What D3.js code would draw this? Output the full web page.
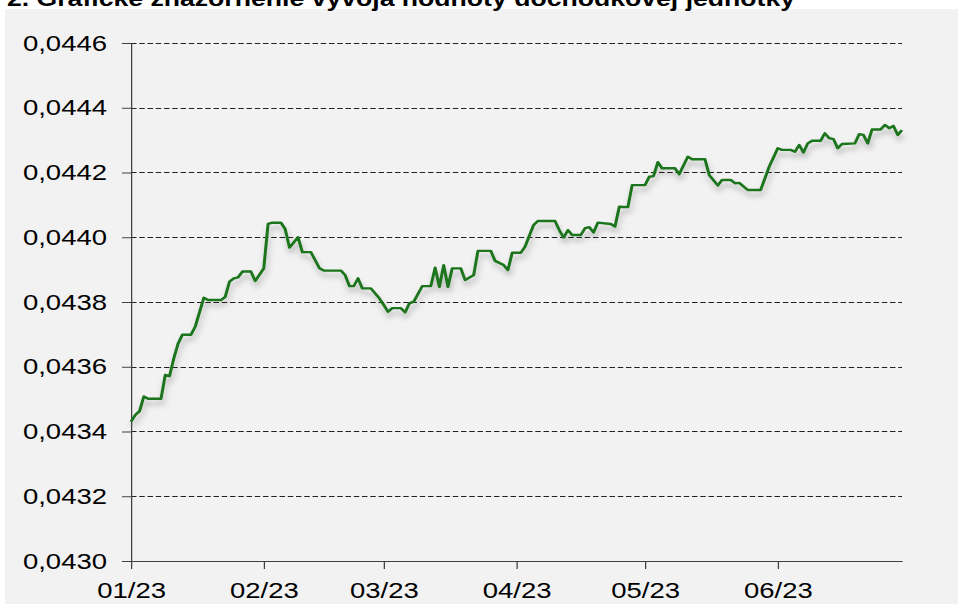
<!DOCTYPE html>
<html>
<head>
<meta charset="utf-8">
<script src="https://cdn.jsdelivr.net/npm/d3@7"></script>
<style>
    body { margin: 0; background: #fff; }
    svg { display: block; }
    text { font-family: "Liberation Sans", Arial, sans-serif; fill: #000; }
</style>
</head>
<body>
<svg id="chart"></svg>
<script>
var title = "2. Grafické znázornenie vývoja hodnoty dôchodkovej jednotky";

var dates = [
    "2023-01-01", "2023-01-02", "2023-01-03", "2023-01-04", "2023-01-05", "2023-01-08", "2023-01-09", "2023-01-10",
    "2023-01-11", "2023-01-12", "2023-01-13", "2023-01-15", "2023-01-16", "2023-01-18", "2023-01-19", "2023-01-22",
    "2023-01-23", "2023-01-24", "2023-01-25", "2023-01-26", "2023-01-27", "2023-01-29", "2023-01-30", "2023-02-01",
    "2023-02-02", "2023-02-03", "2023-02-05", "2023-02-06", "2023-02-07", "2023-02-09", "2023-02-10", "2023-02-12",
    "2023-02-14", "2023-02-15", "2023-02-19", "2023-02-20", "2023-02-21", "2023-02-22", "2023-02-23", "2023-02-24",
    "2023-02-26", "2023-02-28", "2023-03-01", "2023-03-02", "2023-03-03", "2023-03-05", "2023-03-06", "2023-03-07",
    "2023-03-08", "2023-03-10", "2023-03-12", "2023-03-13", "2023-03-14", "2023-03-15", "2023-03-16", "2023-03-17",
    "2023-03-19", "2023-03-20", "2023-03-22", "2023-03-23", "2023-03-26", "2023-03-27", "2023-03-29", "2023-03-30",
    "2023-03-31", "2023-04-02", "2023-04-03", "2023-04-05", "2023-04-06", "2023-04-10", "2023-04-11", "2023-04-12",
    "2023-04-13", "2023-04-14", "2023-04-16", "2023-04-17", "2023-04-18", "2023-04-19", "2023-04-20", "2023-04-23",
    "2023-04-24", "2023-04-25", "2023-04-27", "2023-04-28", "2023-05-01", "2023-05-02", "2023-05-03", "2023-05-04",
    "2023-05-05", "2023-05-08", "2023-05-09", "2023-05-11", "2023-05-12", "2023-05-15", "2023-05-16", "2023-05-18",
    "2023-05-19", "2023-05-21", "2023-05-22", "2023-05-23", "2023-05-25", "2023-05-28", "2023-05-30", "2023-06-01",
    "2023-06-02", "2023-06-04", "2023-06-05", "2023-06-06", "2023-06-07", "2023-06-08", "2023-06-09", "2023-06-11",
    "2023-06-12", "2023-06-13", "2023-06-14", "2023-06-15", "2023-06-16", "2023-06-19", "2023-06-20", "2023-06-21",
    "2023-06-22", "2023-06-23", "2023-06-25", "2023-06-26", "2023-06-27", "2023-06-28", "2023-06-29", "2023-06-30"
];

var values = [
    0.043430, 0.043451, 0.043463, 0.043508, 0.043501, 0.043501, 0.043575, 0.043571,
    0.043626, 0.043672, 0.043699, 0.043699, 0.043724, 0.043813, 0.043806, 0.043806,
    0.043816, 0.043863, 0.043873, 0.043876, 0.043894, 0.043894, 0.043865, 0.043904,
    0.044041, 0.044045, 0.044045, 0.044025, 0.043968, 0.044000, 0.043954, 0.043954,
    0.043904, 0.043897, 0.043897, 0.043883, 0.043849, 0.043849, 0.043873, 0.043842,
    0.043842, 0.043811, 0.043791, 0.043770, 0.043781, 0.043781, 0.043768, 0.043796,
    0.043801, 0.043849, 0.043849, 0.043906, 0.043847, 0.043914, 0.043847, 0.043904,
    0.043904, 0.043868, 0.043883, 0.043958, 0.043958, 0.043927, 0.043914, 0.043899,
    0.043952, 0.043952, 0.043971, 0.044038, 0.044050, 0.044050, 0.044022, 0.043999,
    0.044022, 0.044007, 0.044007, 0.044028, 0.044031, 0.044015, 0.044045, 0.044041,
    0.044033, 0.044094, 0.044093, 0.044161, 0.044161, 0.044187, 0.044189, 0.044232,
    0.044213, 0.044213, 0.044195, 0.044249, 0.044241, 0.044241, 0.044192, 0.044160,
    0.044177, 0.044177, 0.044167, 0.044168, 0.044146, 0.044146, 0.044218, 0.044275,
    0.044270, 0.044270, 0.044264, 0.044285, 0.044262, 0.044290, 0.044298, 0.044298,
    0.044321, 0.044306, 0.044303, 0.044275, 0.044288, 0.044290, 0.044318, 0.044316,
    0.044290, 0.044333, 0.044333, 0.044347, 0.044337, 0.044344, 0.044316, 0.044331
];

var yTicks = [0.0430, 0.0432, 0.0434, 0.0436, 0.0438, 0.0440, 0.0442, 0.0444, 0.0446];
var xTicks = ["2023-01-01", "2023-02-01", "2023-03-01", "2023-04-01", "2023-05-01", "2023-06-01"];
var xDomain = ["2023-01-01", "2023-06-30"];

var parseDate = d3.timeParse("%Y-%m-%d");
var formatMonth = d3.timeFormat("%m/%y");
var formatValue = function (v) {
    return d3.format(".4f")(v).replace(".", ",");
};

function drawChart() {
    var svgWidth = 958, svgHeight = 604;
    var stretch = 1.25; // picture is stretched sideways
    var vbWidth = svgWidth / stretch;
    var margin = {top: 43, right: 56, bottom: 43, left: 131};

    var data = dates.map(function (d, i) {
        return {date: parseDate(d), value: values[i]};
    });

    var svg = d3.select("#chart")
        .attr("width", svgWidth)
        .attr("height", svgHeight)
        .attr("viewBox", "0 0 " + vbWidth + " " + svgHeight)
        .attr("preserveAspectRatio", "none");

    var defs = svg.append("defs");
    var shadow = defs.append("filter")
        .attr("id", "shadow")
        .attr("x", "-5%").attr("y", "-20%")
        .attr("width", "110%").attr("height", "150%");
    shadow.append("feDropShadow")
        .attr("dx", 1)
        .attr("dy", 5)
        .attr("stdDeviation", 2.5)
        .attr("flood-color", "#000")
        .attr("flood-opacity", 0.25);

    // grey plot background
    svg.append("rect")
        .attr("x", 5 / stretch)
        .attr("y", 9)
        .attr("width", vbWidth)
        .attr("height", svgHeight)
        .attr("fill", "#f2f2f2");

    svg.append("text")
        .attr("x", 7 / stretch)
        .attr("y", 6)
        .attr("font-size", 21.3)
        .attr("font-weight", "bold")
        .text(title);

    var left = margin.left / stretch;
    var right = (svgWidth - margin.right) / stretch;
    var top = margin.top;
    var bottom = svgHeight - margin.bottom;

    var x = d3.scaleTime()
        .domain(xDomain.map(parseDate))
        .range([left, right]);

    var y = d3.scaleLinear()
        .domain([yTicks[0], yTicks[yTicks.length - 1]])
        .range([bottom, top]);

    // dashed grid lines
    svg.append("g")
        .selectAll("line")
        .data(yTicks.slice(1))
        .enter()
        .append("line")
        .attr("x1", left)
        .attr("x2", right)
        .attr("y1", function (d) { return Math.round(y(d)) + 0.5; })
        .attr("y2", function (d) { return Math.round(y(d)) + 0.5; })
        .attr("stroke", "#222")
        .attr("stroke-width", 1)
        .attr("stroke-dasharray", "4.4,2.2");

    var yAxis = svg.append("g")
        .attr("transform", "translate(" + left + ",0)")
        .call(d3.axisLeft(y)
            .tickValues(yTicks)
            .tickFormat(formatValue)
            .tickSize(9 / stretch)
            .tickSizeOuter(0)
            .tickPadding(12));

    var xAxis = svg.append("g")
        .attr("transform", "translate(0," + bottom + ")")
        .call(d3.axisBottom(x)
            .tickValues(xTicks.map(parseDate))
            .tickFormat(formatMonth)
            .tickSize(8)
            .tickSizeOuter(0)
            .tickPadding(13));

    [yAxis, xAxis].forEach(function (a) {
        a.selectAll("path, line").attr("stroke", "#404040");
        a.selectAll("text")
            .attr("font-size", 22)
            .attr("font-family", "'Liberation Sans', Arial, sans-serif")
            .attr("fill", "#000");
    });

    var line = d3.line()
        .x(function (d) { return x(d.date); })
        .y(function (d) { return y(d.value); });

    svg.append("path")
        .datum(data)
        .attr("fill", "none")
        .attr("stroke", "#1a741a")
        .attr("stroke-width", 2.4)
        .attr("stroke-linejoin", "round")
        .attr("filter", "url(#shadow)")
        .attr("d", line);
}

drawChart();
</script>
</body>
</html>
